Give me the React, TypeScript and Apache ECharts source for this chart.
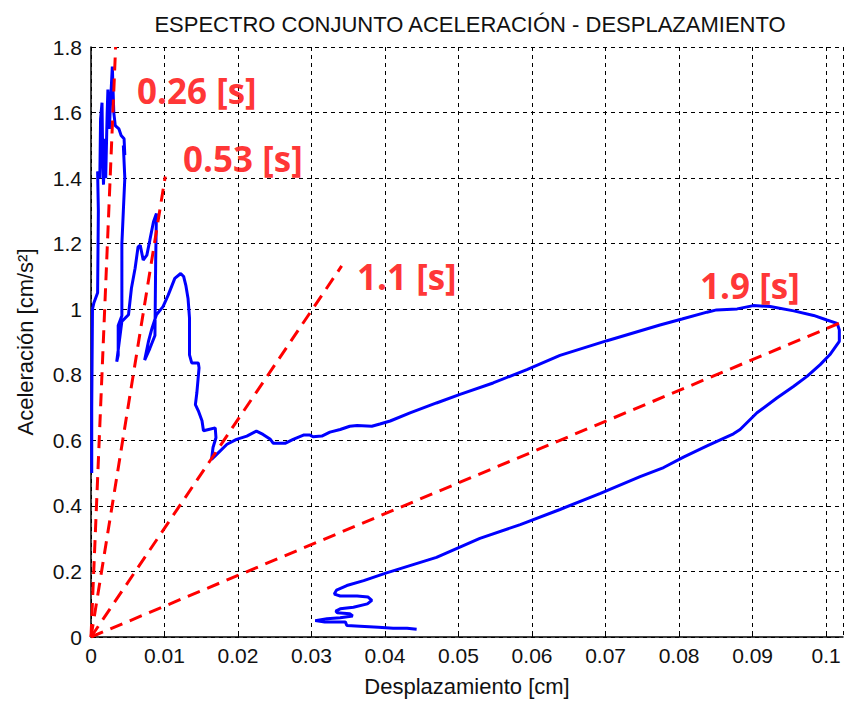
import React, { useEffect, useRef } from "react";
import * as echarts from "echarts";

// Blue curve: joint spectrum, displacement [cm] and acceleration [cm/s2]
const dispCm: number[] = [
  0.0001, 0.0001, 0.0002, 0.0004, 0.0009, 0.0010, 0.0009, 0.0012, 0.0013, 0.0015,
  0.0016, 0.0017, 0.0019, 0.0020, 0.0022, 0.0023, 0.0025, 0.0027, 0.0029, 0.0031,
  0.0033, 0.0038, 0.0041, 0.0045, 0.0046, 0.0044, 0.0046, 0.0044, 0.0042, 0.0042,
  0.0037, 0.0037, 0.0035, 0.0042, 0.0051, 0.0055, 0.0060, 0.0064, 0.0067, 0.0071,
  0.0076, 0.0080, 0.0085, 0.0089, 0.0088, 0.0087, 0.0080, 0.0073, 0.0078, 0.0083,
  0.0089, 0.0098, 0.0105, 0.0114, 0.0122, 0.0126, 0.0129, 0.0132, 0.0134, 0.0134,
  0.0137, 0.0146, 0.0147, 0.0144, 0.0142, 0.0146, 0.0151, 0.0153, 0.0160, 0.0169,
  0.0170, 0.0166, 0.0164, 0.0171, 0.0185, 0.0198, 0.0212, 0.0225, 0.0234, 0.0244,
  0.0248, 0.0264, 0.0275, 0.0289, 0.0298, 0.0302, 0.0314, 0.0325, 0.0339, 0.0352,
  0.0362, 0.0382, 0.0393, 0.0407, 0.0434, 0.0470, 0.0502, 0.0547, 0.0593, 0.0638,
  0.0702, 0.0774, 0.0804, 0.0838, 0.0851, 0.0879, 0.0901, 0.0924, 0.0956, 0.0983,
  0.1001, 0.1015, 0.1018, 0.1018, 0.1005, 0.0992, 0.0974, 0.0956, 0.0933, 0.0906,
  0.0883, 0.0874, 0.0838, 0.0806, 0.0779, 0.0747, 0.0693, 0.0638, 0.0584, 0.0529,
  0.0470, 0.0401, 0.0371, 0.0348, 0.0334, 0.0331, 0.0339, 0.0362, 0.0377, 0.0382,
  0.0376, 0.0357, 0.0339, 0.0333, 0.0335, 0.0352, 0.0356, 0.0339, 0.0321, 0.0305,
  0.0318, 0.0346, 0.0348, 0.0366, 0.0391, 0.0411, 0.0430, 0.0443,
];
const accelCms2: number[] = [
  0.50, 0.70, 1.00, 1.02, 1.05, 1.30, 1.42, 1.40, 1.58, 1.63,
  1.45, 1.38, 1.52, 1.40, 1.60, 1.67, 1.55, 1.65, 1.74, 1.60,
  1.56, 1.55, 1.53, 1.52, 1.47, 1.50, 1.40, 1.30, 1.20, 0.98,
  0.95, 0.86, 0.84, 0.963, 0.983, 1.064, 1.125, 1.19, 1.195, 1.15,
  1.165, 1.21, 1.267, 1.292, 1.15, 0.92, 0.88, 0.845, 0.90, 0.942,
  0.983, 1.008, 1.043, 1.094, 1.109, 1.100, 1.073, 1.033, 0.973, 0.861,
  0.836, 0.836, 0.821, 0.745, 0.709, 0.690, 0.660, 0.629, 0.633, 0.638,
  0.608, 0.578, 0.542, 0.557, 0.588, 0.603, 0.613, 0.628, 0.618, 0.603,
  0.591, 0.591, 0.603, 0.616, 0.616, 0.611, 0.613, 0.625, 0.633, 0.643,
  0.645, 0.643, 0.650, 0.659, 0.684, 0.714, 0.740, 0.775, 0.816, 0.859,
  0.904, 0.952, 0.970, 0.991, 0.998, 1.001, 1.011, 1.008, 0.995, 0.981,
  0.967, 0.957, 0.937, 0.902, 0.861, 0.831, 0.795, 0.765, 0.729, 0.684,
  0.633, 0.620, 0.583, 0.549, 0.517, 0.489, 0.438, 0.389, 0.343, 0.301,
  0.243, 0.195, 0.172, 0.157, 0.143, 0.131, 0.125, 0.125, 0.122, 0.112,
  0.101, 0.091, 0.086, 0.079, 0.074, 0.071, 0.064, 0.059, 0.056, 0.050,
  0.046, 0.046, 0.035, 0.033, 0.030, 0.027, 0.027, 0.024,
];

// Red dashed constant-period lines (from origin to end point)
const periodTexts: string[] = ["0.26 [s]", "0.53 [s]", "1.1 [s]", "1.9 [s]"];
const periodEndDisp: number[] = [0.00335, 0.0101, 0.0341, 0.1023];
const periodEndAccel: number[] = [1.8, 1.405, 1.132, 0.962];
const periodLabelDisp: number[] = [0.00626, 0.01252, 0.03619, 0.08286];
const periodLabelAccel: number[] = [1.666, 1.459, 1.1, 1.073];

const xMin = 0;
const xMax = 0.1023;
const xStep = 0.01;
const yMin = 0;
const yMax = 1.8;
const yStep = 0.2;

const titleText = "ESPECTRO CONJUNTO ACELERACIÓN - DESPLAZAMIENTO";
const xName = "Desplazamiento [cm]";
const yName = "Aceleración [cm/s²]";

export default function App() {
  const ref = useRef<HTMLDivElement>(null);
  useEffect(() => {
    if (!ref.current) return;
    const chart = echarts.init(ref.current, null, { renderer: "svg" });
    const font = "'Liberation Sans', Arial, sans-serif";
    const curve = dispCm.map((d, i) => [d, accelCms2[i]]);
    const periodSeries = periodTexts.map((t, i) => ({
      type: "line",
      name: t,
      data: [
        [0, 0],
        [periodEndDisp[i], periodEndAccel[i]],
      ],
      symbol: "none",
      lineStyle: { color: "#ff0000", width: 3, type: [13, 8] },
      z: 5,
      silent: true,
    }));
    chart.setOption({
      animation: false,
      backgroundColor: "#ffffff",
      title: {
        text: titleText,
        left: 465,
        textAlign: "center",
        top: 8,
        textStyle: { fontFamily: font, fontSize: 22, fontWeight: "normal", color: "#111" },
      },
      grid: { left: 91, top: 47, right: 1, bottom: 62, containLabel: false },
      xAxis: {
        type: "value",
        min: xMin,
        max: xMax,
        interval: xStep,
        name: xName,
        nameLocation: "middle",
        nameGap: 38,
        nameTextStyle: { fontFamily: font, fontSize: 22, color: "#111" },
        axisLine: { show: true, onZero: false, lineStyle: { color: "#000", width: 1.5 } },
        axisTick: { show: true, inside: true, length: 5, lineStyle: { color: "#000" } },
        axisLabel: {
          fontFamily: font,
          fontSize: 21,
          color: "#111",
          margin: 8,
          showMaxLabel: false,
          formatter: (v: number) => String(+v.toFixed(2)),
        },
        splitLine: { show: true, lineStyle: { color: "#000", width: 1, type: [4, 4] } },
      },
      yAxis: {
        type: "value",
        min: yMin,
        max: yMax,
        interval: yStep,
        name: yName,
        nameLocation: "middle",
        nameGap: 55,
        nameTextStyle: { fontFamily: font, fontSize: 22, color: "#111" },
        axisLine: { show: true, onZero: false, lineStyle: { color: "#000", width: 1.5 } },
        axisTick: { show: true, inside: true, length: 5, lineStyle: { color: "#000" } },
        axisLabel: {
          fontFamily: font,
          fontSize: 21,
          color: "#111",
          margin: 9,
          formatter: (v: number) => String(+v.toFixed(1)),
        },
        splitLine: { show: true, lineStyle: { color: "#000", width: 1, type: [4, 4] } },
      },
      series: [
        {
          type: "line",
          name: "espectro",
          data: curve,
          symbol: "none",
          lineStyle: { color: "#0000ff", width: 3 },
          z: 3,
          silent: true,
        },
        ...periodSeries,
        {
          type: "scatter",
          name: "labels",
          data: periodTexts.map((t, i) => ({
            value: [periodLabelDisp[i], periodLabelAccel[i]],
            label: { formatter: t },
          })),
          symbolSize: 0,
          silent: true,
          z: 6,
          label: {
            show: true,
            position: "right",
            distance: 0,
            fontFamily: "'Open Sans', 'Liberation Sans', sans-serif",
            fontWeight: "bold",
            fontSize: 35,
            color: "#ff0000",
          },
        },
      ],
    });
    return () => chart.dispose();
  }, []);
  return (
    <div
      ref={ref}
      style={{ position: "fixed", left: 0, top: 0, width: 844, height: 702, background: "#fff" }}
    />
  );
}
